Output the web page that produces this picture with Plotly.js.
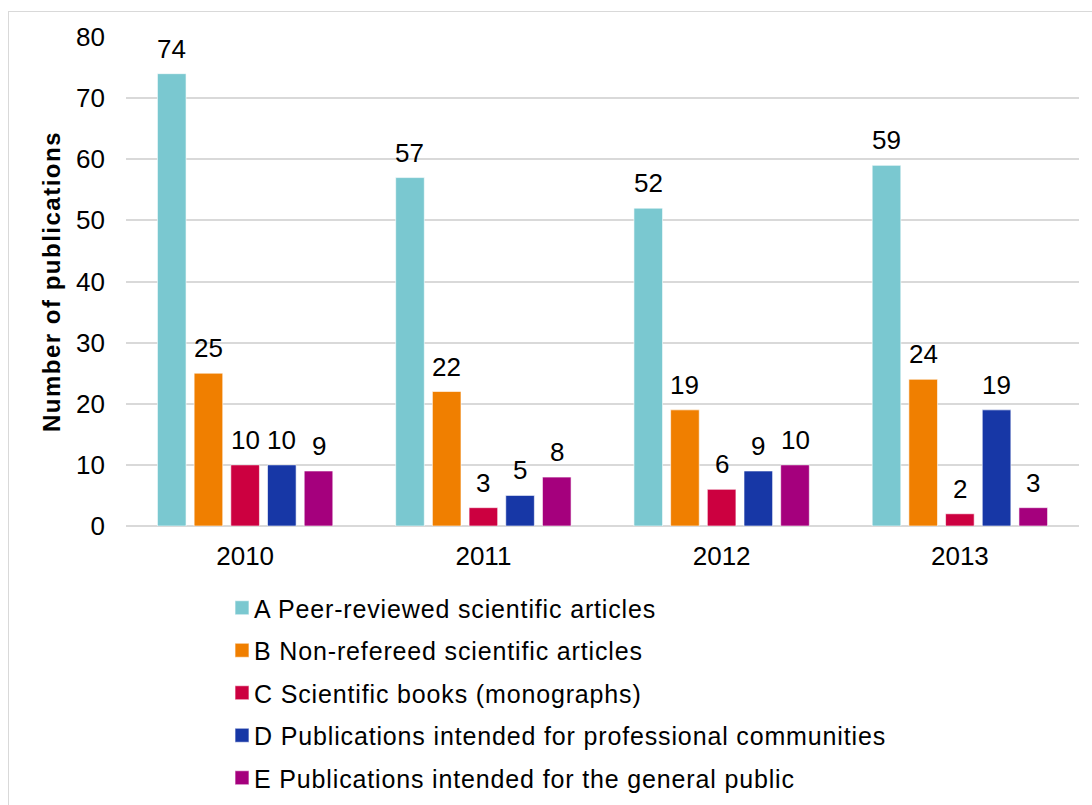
<!DOCTYPE html>
<html><head><meta charset="utf-8">
<script src="https://cdn.plot.ly/plotly-3.0.1.min.js"></script>
<style>
html,body{margin:0;padding:0;background:#fff;}
#wrap{position:relative;width:1092px;height:805px;overflow:hidden;}
#chart{width:1092px;height:805px;}
#frame{position:absolute;left:8px;top:11px;width:1100px;height:820px;border:1px solid #d9d9d9;pointer-events:none;}
.legendtext{letter-spacing:0.85px;}
.ytitle{letter-spacing:1.5px;}
.legendpoints path{transform:translate(28px,0px) scale(1.17);}
</style></head>
<body><div id="wrap"><div id="chart"></div><div id="frame"></div></div>
<script>
const years = ['2010','2011','2012','2013'];
const seriesNames = [
  'A Peer-reviewed scientific articles',
  'B Non-refereed scientific articles',
  'C Scientific books (monographs)',
  'D Publications intended for professional communities',
  'E Publications intended for the general public'
];
const seriesA = [74,57,52,59];
const seriesB = [25,22,19,24];
const seriesC = [10,3,6,2];
const seriesD = [10,5,9,19];
const seriesE = [9,8,10,3];
const colors = ['#7AC8D0','#F07F00','#CC0040','#1737A6','#A5007D'];
const allSeries = [seriesA,seriesB,seriesC,seriesD,seriesE];
const font = 'Liberation Sans, Arial, sans-serif';

const W = 1092, H = 805, M = {l:126, r:13, t:37, b:279, autoexpand:false};
const bargap = 0.23, bargroupgap = 0.22;
const slot = (W - M.l - M.r) / years.length * (1 - bargap) / allSeries.length;

const traces = allSeries.map((vals,i)=>({
  type:'bar', x:years, y:vals, name:seriesNames[i],
  legendgroup:'g'+i,
  marker:{color:colors[i], line:{color:'rgba(255,255,255,0.6)', width:1}},
  hoverinfo:'skip'
}));
const annotations = [];
allSeries.forEach((vals,i)=>{
  vals.forEach((v,j)=>{
    // x given as category index (serial number of the category on the category axis)
    annotations.push({x:j, y:v, xref:'x', yref:'y', text:String(v), showarrow:false,
      xanchor:'center', yanchor:'bottom', yshift:8, xshift:(i-(allSeries.length-1)/2)*slot,
      font:{family:font,size:26,color:'#000'}});
  });
});
const layout = {
  width:W, height:H, margin:M,
  paper_bgcolor:'#fff', plot_bgcolor:'#fff',
  barmode:'group', bargap:bargap, bargroupgap:bargroupgap,
  font:{family:font,color:'#000'},
  xaxis:{type:'category', categoryarray:years, showgrid:false, showline:false, zeroline:false, ticks:'',
    tickfont:{family:font,size:26,color:'#000'}, ticklabelstandoff:12},
  yaxis:{range:[0,80], dtick:10, showgrid:true, gridcolor:'#d9d9d9', gridwidth:2,
    zeroline:true, zerolinecolor:'#d9d9d9', zerolinewidth:2, showline:false, ticks:'',
    tickfont:{family:font,size:26,color:'#000'}, ticklabelstandoff:20,
    title:{text:'<b>Number of publications</b>', font:{family:font,size:24,color:'#000'}, standoff:8}},
  annotations:annotations,
  showlegend:true,
  legend:{orientation:'v', x:(214-M.l)/(W-M.l-M.r), xanchor:'left', y:-(585-(H-M.b))/(H-M.t-M.b), yanchor:'top',
    traceorder:'grouped', tracegroupgap:7,
    font:{family:font,size:25,color:'#000'}, itemwidth:30, bgcolor:'rgba(0,0,0,0)'}
};
Plotly.newPlot('chart', traces, layout, {displayModeBar:false, staticPlot:true});
</script></body></html>
